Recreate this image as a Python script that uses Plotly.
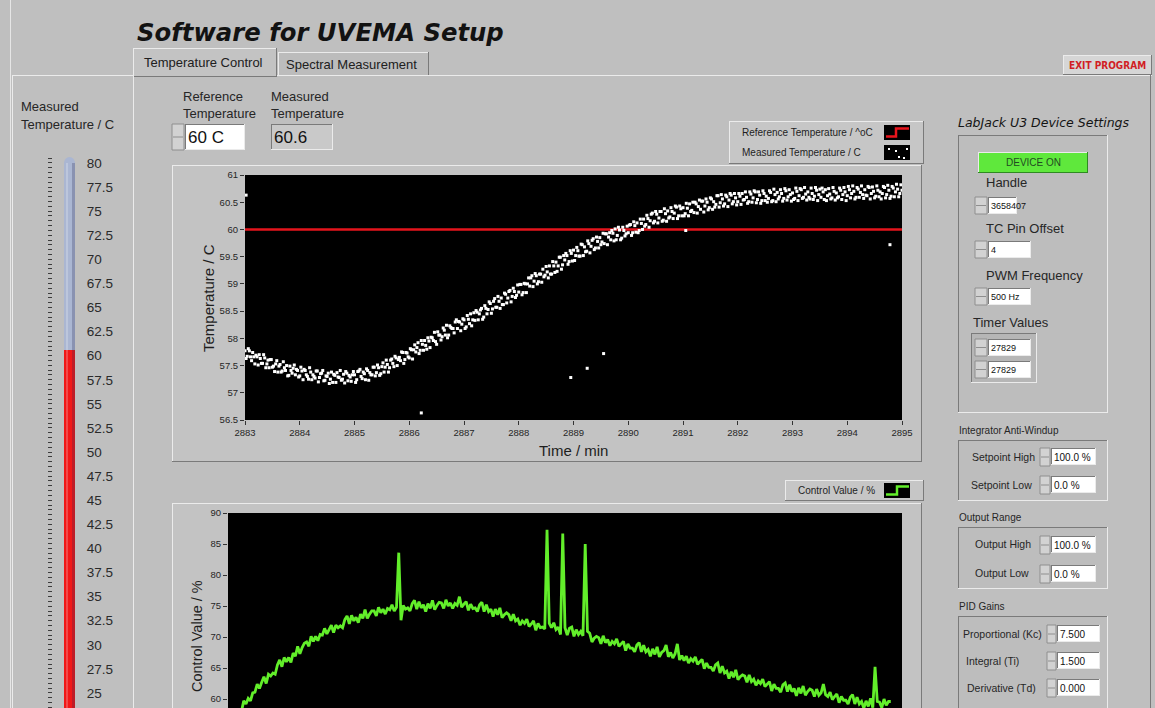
import plotly.graph_objects as go

W, H = 1155, 708
FONT = "Liberation Sans"
BG = "#bfbfbf"

# ---------------- data ----------------
TEMP_T0 = 2883.0
TEMP_DT = 0.04
measured_temp = [
    57.77, 57.67, 57.77, 57.59, 57.66, 57.69, 57.51, 57.63, 57.54, 57.64, 57.53, 57.46, 57.61, 57.49, 57.53, 57.38, 57.52, 57.40, 57.46, 57.50, 57.32, 57.41, 57.45, 57.33, 57.41,
    57.31, 57.40, 57.43, 57.33, 57.25, 57.38, 57.33, 57.27, 57.40, 57.28, 57.36, 57.22, 57.31, 57.36, 57.25, 57.19, 57.32, 57.37, 57.28, 57.23, 57.34, 57.39, 57.22, 57.29, 57.33,
    57.33, 57.24, 57.40, 57.30, 57.38, 57.24, 57.41, 57.37, 57.33, 57.47, 57.37, 57.46, 57.35, 57.55, 57.47, 57.52, 57.46, 57.62, 57.48, 57.64, 57.61, 57.59, 57.74, 57.61, 57.73,
    57.64, 57.79, 57.79, 57.75, 57.92, 57.78, 57.89, 57.96, 57.80, 57.95, 58.02, 57.96, 57.94, 58.12, 58.06, 58.03, 58.15, 58.24, 58.06, 58.20, 58.18, 58.30, 58.18, 58.30, 58.26,
    58.34, 58.21, 58.35, 58.45, 58.34, 58.33, 58.48, 58.45, 58.55, 58.39, 58.55, 58.53, 58.64, 58.54, 58.73, 58.57, 58.68, 58.74, 58.62, 58.81, 58.74, 58.88, 58.77, 58.86, 58.79,
    58.85, 58.99, 58.84, 59.00, 59.00, 58.96, 59.15, 59.05, 59.15, 59.04, 59.18, 59.27, 59.16, 59.22, 59.33, 59.18, 59.33, 59.40, 59.33, 59.49, 59.35, 59.44, 59.52, 59.41, 59.56,
    59.62, 59.52, 59.61, 59.51, 59.72, 59.68, 59.60, 59.74, 59.69, 59.83, 59.66, 59.78, 59.85, 59.77, 59.74, 59.92, 59.86, 59.81, 59.93, 60.01, 59.89, 59.99, 59.84, 59.98, 59.92,
    59.94, 60.09, 59.94, 60.07, 60.12, 59.98, 60.11, 60.19, 60.09, 60.20, 60.16, 60.30, 60.15, 60.28, 60.21, 60.33, 60.17, 60.29, 60.34, 60.23, 60.33, 60.30, 60.41, 60.25, 60.38,
    60.40, 60.29, 60.39, 60.47, 60.35, 60.31, 60.47, 60.42, 60.37, 60.52, 60.43, 60.50, 60.40, 60.56, 60.51, 60.46, 60.62, 60.49, 60.56, 60.47, 60.60, 60.54, 60.63, 60.51, 60.58,
    60.51, 60.61, 60.66, 60.55, 60.59, 60.51, 60.65, 60.58, 60.69, 60.55, 60.63, 60.53, 60.66, 60.61, 60.57, 60.68, 60.53, 60.64, 60.68, 60.60, 60.66, 60.57, 60.71, 60.60, 60.64,
    60.67, 60.57, 60.70, 60.62, 60.73, 60.59, 60.65, 60.69, 60.56, 60.66, 60.61, 60.72, 60.64, 60.59, 60.69, 60.73, 60.62, 60.65, 60.58, 60.70, 60.67, 60.60, 60.72, 60.64, 60.69,
    60.62, 60.73, 60.66, 60.70, 60.59, 60.74, 60.68, 60.64, 60.73, 60.62, 60.77, 60.66, 60.70, 60.61, 60.72, 60.69, 60.66, 60.77, 60.64, 60.72, 60.61, 60.76, 60.69, 60.74, 60.66,
    60.72,
]
# interleaved readings (half a sample later)
TEMP_T0_B = 2883.02
measured_temp_b = [
    57.63, 57.81, 57.66, 57.74, 57.53, 57.66, 57.70, 57.54, 57.70, 57.46, 57.60, 57.61, 57.47, 57.39, 57.59, 57.49, 57.38, 57.57, 57.41, 57.31, 57.49, 57.36, 57.51, 57.43, 57.29,
    57.47, 57.24, 57.41, 57.30, 57.46, 57.24, 57.30, 57.40, 57.20, 57.35, 57.41, 57.23, 57.30, 57.17, 57.38, 57.34, 57.19, 57.29, 57.41, 57.25, 57.18, 57.36, 57.32, 57.21, 57.39,
    57.19, 57.39, 57.43, 57.26, 57.35, 57.44, 57.23, 57.33, 57.47, 57.31, 57.51, 57.32, 57.48, 57.38, 57.60, 57.38, 57.60, 57.54, 57.67, 57.50, 57.65, 57.75, 57.54, 57.74, 57.66,
    57.81, 57.62, 57.88, 57.83, 57.72, 57.96, 57.78, 57.87, 58.01, 57.83, 58.01, 58.11, 57.89, 58.06, 57.97, 58.19, 58.06, 58.01, 58.23, 58.18, 58.10, 58.34, 58.31, 58.14, 58.36,
    58.18, 58.42, 58.27, 58.23, 58.47, 58.51, 58.34, 58.52, 58.35, 58.60, 58.45, 58.67, 58.46, 58.68, 58.57, 58.77, 58.55, 58.62, 58.83, 58.65, 58.86, 58.67, 58.92, 58.75, 58.98,
    58.99, 58.80, 59.01, 58.84, 59.11, 59.11, 58.95, 59.19, 59.00, 59.18, 59.03, 59.13, 59.32, 59.11, 59.18, 59.41, 59.21, 59.23, 59.49, 59.27, 59.52, 59.56, 59.36, 59.61, 59.42,
    59.43, 59.67, 59.51, 59.73, 59.52, 59.59, 59.79, 59.57, 59.80, 59.63, 59.86, 59.66, 59.72, 59.93, 59.92, 59.72, 59.94, 59.98, 59.79, 59.81, 60.04, 59.81, 60.04, 59.88, 60.06,
    60.08, 59.89, 60.14, 59.95, 59.94, 60.19, 60.00, 60.06, 60.26, 60.04, 60.28, 60.12, 60.33, 60.12, 60.33, 60.15, 60.38, 60.15, 60.21, 60.40, 60.20, 60.43, 60.20, 60.43, 60.25,
    60.25, 60.48, 60.25, 60.33, 60.50, 60.50, 60.30, 60.54, 60.52, 60.32, 60.56, 60.36, 60.58, 60.37, 60.41, 60.62, 60.41, 60.64, 60.43, 60.63, 60.42, 60.66, 60.47, 60.66, 60.45,
    60.66, 60.46, 60.54, 60.69, 60.48, 60.69, 60.50, 60.71, 60.49, 60.69, 60.48, 60.71, 60.53, 60.50, 60.71, 60.51, 60.74, 60.51, 60.56, 60.73, 60.52, 60.75, 60.54, 60.73, 60.52,
    60.55, 60.76, 60.53, 60.75, 60.57, 60.77, 60.54, 60.59, 60.76, 60.55, 60.77, 60.53, 60.74, 60.76, 60.55, 60.53, 60.75, 60.56, 60.77, 60.54, 60.58, 60.76, 60.55, 60.77, 60.53,
    60.79, 60.58, 60.80, 60.56, 60.77, 60.59, 60.80, 60.57, 60.63, 60.79, 60.56, 60.78, 60.58, 60.80, 60.60, 60.56, 60.79, 60.58, 60.81, 60.57, 60.79, 60.60, 60.83, 60.60, 60.82,
]
outlier_time = [2883.02, 2886.22, 2888.95, 2889.25, 2889.55, 2891.05, 2894.78]
outlier_temp = [60.63, 56.63, 57.28, 57.45, 57.72, 59.98, 59.72]
reference_time = [2883.0, 2895.0]
reference_temp = [60.0, 60.0]

CTRL_T0 = 2883.12
CTRL_DT = 0.04
control_value = [
    56.2, 57.1,
    58.4, 58.0, 59.7, 59.2, 60.1,  59.7, 61.0, 61.1, 62.4, 61.7,  62.7, 63.6, 62.5, 64.0, 63.7,
    64.2, 64.0, 65.5, 66.3, 65.2,  66.7, 66.0, 66.7, 65.9, 67.4,  66.9, 68.5, 67.3, 68.3, 69.0,
    69.2, 68.5, 70.1, 69.3, 70.1,  69.4, 70.4, 70.3, 71.4, 70.5,  71.2, 71.9, 70.7, 71.9, 71.5,
    71.8, 71.5, 72.8, 73.4, 72.1,  73.5, 72.6, 73.2, 72.3, 73.7,  73.0, 74.4, 73.0, 73.7, 74.2,
    74.2, 73.4, 74.8, 73.9, 74.5,  73.7, 74.6, 74.4, 75.2, 74.2,  74.8, 83.6, 72.7, 75.1, 74.5,
    74.7, 74.2, 75.4, 75.9, 74.5,  75.7, 74.7, 75.2, 74.1, 75.4,  74.6, 75.9, 74.4, 75.1, 75.6,
    75.5, 74.6, 76.0, 75.0, 75.5,  74.6, 75.4, 75.1, 76.5, 74.8,  75.3, 75.7, 74.3, 75.3, 74.6,
    74.7, 74.1, 75.2, 75.6, 74.1,  75.2, 74.1, 74.5, 73.3, 74.5,  73.6, 74.7, 73.1, 73.6, 73.9,
    73.6, 72.6, 73.7, 72.6, 72.9,  71.9, 72.6, 72.2, 72.9, 71.7,  72.1, 72.6, 71.1, 72.2, 71.5,
    71.6, 71.3, 87.3, 72.2, 71.5,  72.3, 71.2, 71.6, 70.4, 86.7,  71.5, 70.3, 71.4, 71.6, 70.1,
    71.2, 70.4, 70.9, 70.2, 85.0,  70.9, 70.6, 69.2, 69.8, 70.1,  69.9, 68.9, 70.2, 69.1, 69.6,
    68.6, 69.3, 68.9, 69.7, 68.5,  68.9, 69.3, 67.8, 68.9, 68.2,  68.2, 67.6, 68.7, 69.1, 67.6,
    68.7, 67.6, 68.0, 66.9, 68.1,  67.2, 68.4, 66.8, 67.5, 67.8,  68.7, 66.8, 67.5, 66.6, 67.3,
    68.9, 66.3, 67.0, 66.2, 66.9,  65.8, 66.5, 66.1, 66.8, 65.6,  66.0, 66.4, 64.9, 65.8, 65.1,
    65.1, 64.5, 65.5, 65.8, 64.2,  65.3, 64.2, 64.5, 63.3, 64.4,  63.5, 64.7, 63.1, 63.6, 63.9,
    63.7, 62.7, 63.9, 62.8, 63.2,  62.2, 62.9, 62.5, 63.2, 62.0,  62.4, 62.8, 61.3, 62.4, 61.7,
    61.7, 61.1, 62.3, 62.6, 61.2,  62.3, 61.2, 61.7, 60.5, 61.8,  60.9, 62.1, 60.6, 61.2, 61.6,
    61.4, 60.4, 61.6, 60.6, 61.0,  62.4, 60.7, 60.4, 61.1, 59.9,  60.4, 60.8, 59.4, 60.4, 59.8,
    59.8, 59.2, 60.3, 60.7, 59.2,  60.3, 59.2, 59.6, 58.5, 59.7,  58.8, 60.1, 58.6, 65.2, 59.6,
    59.5, 58.6, 60.0, 59.0, 59.6,
    59.6,
]

thermo_value = 60.6
thermo_max = 80.0
thermo_ticks = [25, 27.5, 30, 32.5, 35, 37.5, 40, 42.5, 45, 47.5, 50, 52.5, 55, 57.5,
                60, 62.5, 65, 67.5, 70, 72.5, 75, 77.5, 80]
time_ticks = [2883, 2884, 2885, 2886, 2887, 2888, 2889, 2890, 2891, 2892, 2893, 2894, 2895]
temp_ticks = [56.5, 57, 57.5, 58, 58.5, 59, 59.5, 60, 60.5, 61]
ctrl_ticks = [60, 65, 70, 75, 80, 85, 90]

temp_time = [round(TEMP_T0 + i * TEMP_DT, 3) for i in range(len(measured_temp))]
temp_time_b = [round(TEMP_T0_B + i * TEMP_DT, 3) for i in range(len(measured_temp_b))]
ctrl_time = [round(CTRL_T0 + i * CTRL_DT, 3) for i in range(len(control_value))]


def fmt(v):
    return ("%g" % v)


# ---------------- helpers ----------------
shapes, annos = [], []


def X(x):
    return x / W


def Y(y):
    return 1 - y / H


def rect(x0, y0, x1, y1, fill="rgba(0,0,0,0)", line=None, lw=1, layer="below"):
    shapes.append(dict(type="rect", xref="paper", yref="paper",
                       x0=X(x0), x1=X(x1), y0=Y(y1), y1=Y(y0), fillcolor=fill,
                       line=dict(color=line if line else "rgba(0,0,0,0)", width=lw if line else 0),
                       layer=layer))


def seg(x0, y0, x1, y1, color, w=1, layer="below"):
    shapes.append(dict(type="line", xref="paper", yref="paper",
                       x0=X(x0), y0=Y(y0), x1=X(x1), y1=Y(y1),
                       line=dict(color=color, width=w), layer=layer))


def bevel(x0, y0, x1, y1, fill, tl, br):
    rect(x0, y0, x1, y1, fill)
    seg(x0, y0 + 0.5, x1, y0 + 0.5, tl)
    seg(x0 + 0.5, y0, x0 + 0.5, y1, tl)
    seg(x0, y1 - 0.5, x1, y1 - 0.5, br)
    seg(x1 - 0.5, y0, x1 - 0.5, y1, br)


def raised(x0, y0, x1, y1, fill=BG):
    bevel(x0, y0, x1, y1, fill, "#ebebeb", "#7a7a7a")


def sunken(x0, y0, x1, y1, fill=BG):
    bevel(x0, y0, x1, y1, fill, "#7a7a7a", "#ebebeb")


def txt(x, y, s, size=13, color="#262626", xa="left", ya="middle", family=FONT,
        weight="normal", style="normal", angle=0):
    annos.append(dict(x=X(x), y=Y(y), xref="paper", yref="paper", text=s, showarrow=False,
                      xanchor=xa, yanchor=ya, textangle=angle, borderpad=0,
                      font=dict(family=family, size=size, color=color, weight=weight, style=style)))


def spinner(x0, y0, x1, y1):
    rect(x0, y0, x1, y1, "#d2d2d2", "#8e8e8e")
    seg(x0 + 1, (y0 + y1) / 2, x1 - 1, (y0 + y1) / 2, "#8e8e8e")


def field(x0, y0, x1, y1, s, size=9.5, fill="#ffffff"):
    sunken(x0, y0, x1, y1, fill)
    txt(x0 + 2, (y0 + y1) / 2 + 0.5, s, size, "#111111")


def path(points, color, w=2):
    d = "M " + " L ".join("%f,%f" % (X(a), Y(b)) for a, b in points)
    shapes.append(dict(type="path", xref="paper", yref="paper", path=d,
                       line=dict(color=color, width=w), layer="below"))


# ---------------- panel chrome ----------------
seg(10.5, 0, 10.5, H, "#e6e6e6")
raised(12, 75, 134, H + 2)
raised(133, 48, 277, 77, "#c3c3c3")
raised(278, 52, 429, 76, "#bcbcbc")
seg(277, 75.5, 1152, 75.5, "#ebebeb")
seg(1150.5, 75, 1150.5, H, "#7a7a7a")
seg(133.5, 76, 133.5, H, "#ebebeb")

txt(136, 33, "Software for UVEMA Setup", 24.3, "#121212", family="DejaVu Sans",
    weight="bold", style="italic")
txt(143, 63, "Temperature Control", 13, "#202020")
txt(285, 64.5, "Spectral Measurement", 13, "#202020")

raised(1063, 55, 1152, 75, "#d6d6d6")
txt(1107.5, 65.5, "EXIT PROGRAM", 10, "#d11e24", xa="center", weight="bold",
    family="DejaVu Sans Condensed")

txt(20, 107, "Measured", 13)
txt(20, 124, "Temperature / C", 13)

txt(182, 97, "Reference", 13)
txt(182, 113.5, "Temperature", 13)
spinner(172, 124, 184, 150)
field(185, 124, 245, 150, "60 C", 17)
txt(270, 97, "Measured", 13)
txt(270, 113.5, "Temperature", 13)
field(271, 124, 333, 150, "60.6", 17, "#c9c9c9")

raised(729, 121, 924, 164, "#c6c6c6")
txt(741, 132.5, "Reference Temperature / ^oC", 10, "#1e1e1e")
txt(741, 152.5, "Measured Temperature / C", 10, "#1e1e1e")
rect(884, 125, 910, 140, "#000000")
path([(886, 136.5), (896, 136.5), (896, 128.5), (909, 128.5)], "#e8141c", 2.5)
rect(884, 145, 910, 160, "#000000")
for (dx, dy) in [(888, 148), (898, 156), (906, 148), (895, 150), (903, 157)]:
    rect(dx, dy, dx + 2, dy + 2, "#ffffff")

raised(172, 165, 922, 462, "#c3c3c3")
rect(245, 175, 902, 420, "#000000")

raised(785, 480, 924, 501, "#c6c6c6")
txt(797, 490.5, "Control Value / %", 10, "#1e1e1e")
rect(884, 483, 910, 498, "#000000")
path([(886, 494.5), (897, 494.5), (897, 486.5), (909, 486.5)], "#62ee2a", 2.5)

raised(172, 503, 922, H + 4, "#c3c3c3")
rect(228, 513, 902, H + 2, "#000000")

txt(208, 298, "Temperature / C", 15, "#1e1e1e", xa="center", angle=-90)
txt(573, 450, "Time / min", 15, "#1e1e1e", xa="center")
txt(197, 636, "Control Value / %", 14.5, "#1e1e1e", xa="center", angle=-90)

txt(957, 122, "LabJack U3 Device Settings", 12.5, "#141414", family="DejaVu Sans", style="italic")
sunken(958, 135, 1108, 413, "#bdbdbd")
raised(978, 152, 1088, 173, "#5fe83c")
seg(978, 172.5, 1088, 172.5, "#2f8a22")
seg(1087.5, 152, 1087.5, 173, "#2f8a22")
txt(1033, 162.5, "DEVICE ON", 10, "#224a22", xa="center")
txt(985, 183, "Handle", 13)
spinner(975, 197, 987, 214)
field(988, 197, 1017, 214, "3658407", 9)
txt(985, 228.5, "TC Pin Offset", 13)
spinner(975, 241, 987, 258)
field(988, 241, 1031, 258, "4", 9)
txt(985, 275, "PWM Frequency", 13)
spinner(975, 288, 987, 305)
field(988, 288, 1031, 305, "500 Hz", 9)
txt(972, 322, "Timer Values", 13)
sunken(971, 333, 1037, 383, "#b6b6b6")
spinner(975, 339, 987, 356)
field(988, 339, 1031, 356, "27829", 9)
spinner(975, 361, 987, 378)
field(988, 361, 1031, 378, "27829", 9)

txt(958, 430, "Integrator Anti-Windup", 10)
sunken(958, 440, 1108, 501, "#bdbdbd")
txt(1036, 457, "Setpoint High", 10.5, xa="right")
spinner(1040, 448, 1050, 466)
field(1051, 448, 1096, 465, "100.0 %", 10)
txt(1033, 485, "Setpoint Low", 10.5, xa="right")
spinner(1040, 476, 1050, 494)
field(1051, 476, 1096, 493, "0.0 %", 10)

txt(958, 517, "Output Range", 10)
sunken(958, 527, 1108, 589, "#bdbdbd")
txt(1032, 543.5, "Output High", 10.5, xa="right")
spinner(1040, 536, 1050, 554)
field(1051, 536, 1096, 553, "100.0 %", 10)
txt(1030, 573, "Output Low", 10.5, xa="right")
spinner(1040, 565, 1050, 583)
field(1051, 565, 1096, 582, "0.0 %", 10)

txt(958, 606.5, "PID Gains", 10)
sunken(958, 616, 1108, H + 4, "#bdbdbd")
txt(1043, 633.5, "Proportional (Kc)", 10.5, xa="right")
spinner(1047, 625, 1056, 643)
field(1057, 625, 1100, 642, "7.500", 10)
txt(965, 660.5, "Integral (Ti)", 10.5)
spinner(1047, 652, 1056, 670)
field(1057, 652, 1100, 669, "1.500", 10)
txt(966, 687.5, "Derivative (Td)", 10.5)
spinner(1047, 679, 1056, 697)
field(1057, 679, 1100, 696, "0.000", 10)

shapes.append(dict(type="circle", xref="paper", yref="paper",
                   x0=X(64), x1=X(75), y0=Y(169), y1=Y(157),
                   fillcolor="#aab6d2", line=dict(width=0), layer="below"))

# ---------------- traces ----------------
fig = go.Figure()

dot = dict(symbol="square", size=3, color="#ffffff", line=dict(width=0))
fig.add_trace(go.Scatter(x=reference_time, y=reference_temp, mode="lines",
                         line=dict(color="#e4141c", width=2.6), xaxis="x", yaxis="y",
                         hoverinfo="skip"))
fig.add_trace(go.Scatter(x=temp_time, y=measured_temp, mode="markers", marker=dot,
                         xaxis="x", yaxis="y"))
fig.add_trace(go.Scatter(x=temp_time_b, y=measured_temp_b, mode="markers", marker=dot,
                         xaxis="x", yaxis="y"))
fig.add_trace(go.Scatter(x=outlier_time, y=outlier_temp, mode="markers", marker=dot,
                         xaxis="x", yaxis="y"))
fig.add_trace(go.Scatter(x=ctrl_time, y=control_value, mode="lines",
                         line=dict(color="#62ee2a", width=2.8), xaxis="x2", yaxis="y2"))

fig.add_trace(go.Bar(x=[0], y=[thermo_max], width=1, marker=dict(color="#aab6d2", line=dict(width=0)),
                     xaxis="x3", yaxis="y3"))
fig.add_trace(go.Bar(x=[0], y=[thermo_value], width=1, marker=dict(color="#f01818", line=dict(width=0)),
                     xaxis="x3", yaxis="y3"))
fig.add_trace(go.Bar(x=[0], y=[thermo_max], width=0.3, offset=0.2,
                     marker=dict(color="rgba(40,40,80,0.25)", line=dict(width=0)),
                     xaxis="x3", yaxis="y3"))
fig.add_trace(go.Bar(x=[0], y=[thermo_max], width=0.2, offset=-0.3,
                     marker=dict(color="rgba(255,255,255,0.22)", line=dict(width=0)),
                     xaxis="x3", yaxis="y3"))
fig.add_trace(go.Scatter(x=[0], y=[thermo_value], mode="markers", marker=dict(opacity=0),
                         xaxis="x4", yaxis="y4", hoverinfo="skip"))

tickfont = dict(family=FONT, size=9.5, color="#262626")
common = dict(showgrid=False, zeroline=False, showline=False, fixedrange=True, automargin=False)

fig.update_layout(
    width=W, height=H, margin=dict(l=0, r=0, t=0, b=0, pad=0, autoexpand=False),
    paper_bgcolor=BG, plot_bgcolor="rgba(0,0,0,0)",
    showlegend=False, barmode="overlay", bargap=0,
    shapes=shapes, annotations=annos,
    xaxis=dict(domain=[X(245), X(902)], range=[2883, 2895], anchor="y",
               tickvals=time_ticks, ticktext=[str(t) for t in time_ticks],
               ticks="outside", ticklen=4, tickcolor="#333333", tickfont=tickfont, **common),
    yaxis=dict(domain=[Y(420), Y(175)], range=[56.5, 61], anchor="x",
               tickvals=temp_ticks, ticktext=[fmt(t) for t in temp_ticks],
               ticks="outside", ticklen=4, tickcolor="#333333", tickfont=tickfont, **common),
    xaxis2=dict(domain=[X(228), X(902)], range=[2883, 2895], anchor="y2",
                showticklabels=False, ticks="", **common),
    yaxis2=dict(domain=[0, Y(513)], range=[58.55, 90], anchor="x2",
                tickvals=ctrl_ticks, ticktext=[fmt(t) for t in ctrl_ticks],
                ticks="outside", ticklen=4, tickcolor="#333333", tickfont=tickfont, **common),
    xaxis3=dict(domain=[X(64), X(75)], range=[-0.5, 0.5], anchor="y3", visible=False, **common),
    yaxis3=dict(domain=[0, Y(157)], range=[23.44, 80.62], anchor="x3", side="right",
                tickvals=thermo_ticks, ticktext=[fmt(t) for t in thermo_ticks],
                ticks="outside", ticklen=8, tickcolor="rgba(0,0,0,0)",
                tickfont=dict(family=FONT, size=13.5, color="#2a2a2a"), **common),
    xaxis4=dict(domain=[X(53), X(56)], range=[-0.5, 0.5], anchor="y4", visible=False, **common),
    yaxis4=dict(domain=[0, Y(157)], range=[23.44, 80.62], anchor="x4", side="left",
                tick0=0, dtick=0.5, ticks="outside", ticklen=4, tickcolor="#3c3c3c",
                showticklabels=False, **common),
)

fig.write_html("out.html", config={"displayModeBar": False},
               post_script="document.body.style.margin='0px';document.body.style.padding='0px';"
                           "document.body.style.overflow='hidden';")
